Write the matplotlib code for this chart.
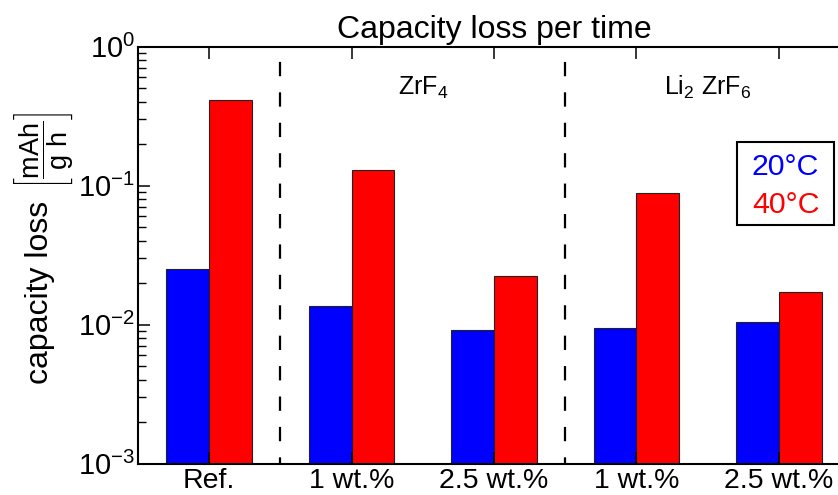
import matplotlib
matplotlib.use("Agg")
import matplotlib.pyplot as plt
from matplotlib.patches import Rectangle
import numpy as np

plt.rcParams['font.family'] = ['Liberation Sans', 'DejaVu Sans']
plt.rcParams['mathtext.fontset'] = 'custom'
plt.rcParams['mathtext.rm'] = 'Liberation Sans'
plt.rcParams['mathtext.it'] = 'Liberation Sans:italic'
plt.rcParams['mathtext.bf'] = 'Liberation Sans:bold'
plt.rcParams['mathtext.sf'] = 'Liberation Sans'
plt.rcParams['lines.scale_dashes'] = False

# ---- data ----
categories = ['Ref.', '1 wt.%', '2.5 wt.%', '1 wt.%', '2.5 wt.%']
loss_20C = [0.0240, 0.0125, 0.0081, 0.0085, 0.0095]
loss_40C = [0.410, 0.129, 0.0213, 0.0877, 0.0162]
series_labels = ['20°C', '40°C']
series_colors = ['#0000ff', '#ff0000']
group_labels = [r'ZrF$_4$', r'Li$_2$ ZrF$_6$']
group_centers = [2.5, 4.5]
group_separators = [1.5, 3.5]

W, H = 838, 495
fig = plt.figure(figsize=(W / 100, H / 100), dpi=100)
ax_left, ax_right, ax_top, ax_bot = 138, 850, 46.5, 463.5
ax = fig.add_axes([ax_left / W, 1 - ax_bot / H, (ax_right - ax_left) / W, (ax_bot - ax_top) / H])

x = np.arange(1, len(categories) + 1)
bw = 0.3
ax.bar(x - bw / 2, loss_20C, width=bw, bottom=1e-3, color=series_colors[0],
       edgecolor='#222222', linewidth=0.8, label=series_labels[0])
ax.bar(x + bw / 2, loss_40C, width=bw, bottom=1e-3, color=series_colors[1],
       edgecolor='#222222', linewidth=0.8, label=series_labels[1])

ax.set_yscale('log')
ax.set_ylim(1e-3, 1)
ax.set_xlim(0.5, 5.5)
ax.set_xticks(x)
ax.set_xticklabels(categories)

for sx in group_separators:
    ax.axvline(sx, color='black', linewidth=1.6, linestyle=(5.5, (10.3, 11.6)))

for gx, gl in zip(group_centers, group_labels):
    ax.text(gx, 0.885, gl, transform=ax.get_xaxis_transform(), ha='center',
            va='baseline', fontsize=18)

for s in ax.spines.values():
    s.set_linewidth(1.5)

ax.tick_params(axis='both', which='both', direction='in', top=True, right=True)
ax.tick_params(axis='both', which='major', length=8.6, width=1.1)
ax.tick_params(axis='x', which='major', labelsize=20.5, pad=3)
ax.tick_params(axis='y', which='major', labelsize=21, pad=2)
ax.tick_params(axis='y', which='minor', length=5.8, width=1.0)
ax.tick_params(axis='x', which='minor', bottom=False, top=False)

ax.set_title('Capacity loss per time', fontsize=23, pad=6)
ax.set_ylabel('capacity loss', fontsize=23)
ax.yaxis.set_label_coords(-0.1166, 0.41)
# unit of the y label, in brackets
fig.text(43.5 / W, 1 - 150.5 / H, r'$\left[\dfrac{\mathrm{mAh}}{\mathrm{g\ h}}\right]$',
         fontsize=19.5, rotation=90, ha='center', va='center')

# legend box (text only, coloured labels)
bx0, bx1, by0, by1 = 736.7, 834.3, 142.3, 225.0
fig.add_artist(Rectangle((bx0 / W, 1 - by1 / H), (bx1 - bx0) / W, (by1 - by0) / H,
                         transform=fig.transFigure, facecolor='white',
                         edgecolor='black', linewidth=1.5))
for lab, col, base in zip(series_labels, series_colors, [175.0, 213.3]):
    fig.text((bx0 + bx1) / 2 / W, 1 - base / H, lab, color=col, fontsize=21.8,
             ha='center', va='baseline')

fig.savefig('out.png', dpi=100)
